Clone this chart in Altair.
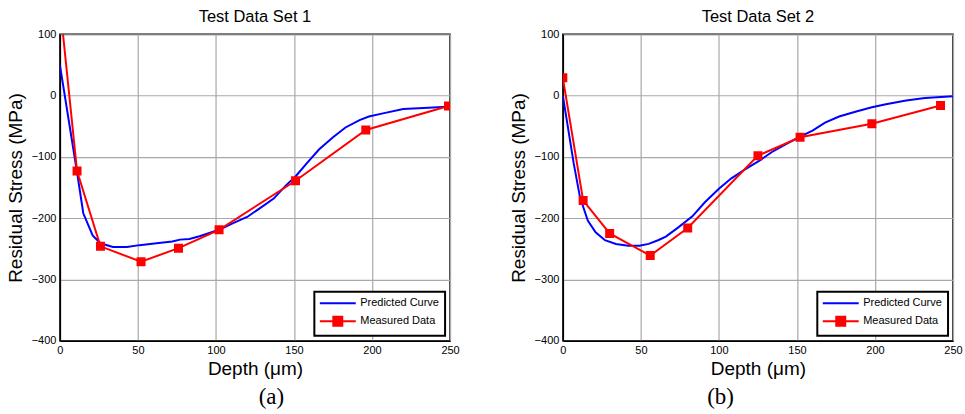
import altair as alt
import pandas as pd

titles = ["Test Data Set 1", "Test Data Set 2"]
captions = ["(a)", "(b)"]
series = ["Predicted Curve", "Measured Data"]
x_ticks = [0, 50, 100, 150, 200, 250]
y_ticks = [-400, -300, -200, -100, 0, 100]

pred1_x = [0, 11, 15, 21, 26, 34, 43, 51, 62, 72, 77, 83, 90, 102, 111, 120, 128, 137, 145, 151, 158, 166, 175, 183, 192, 198, 207, 220, 233, 248]
pred1_y = [50, -125, -192, -228, -241, -247, -247, -244, -241, -238, -235, -234, -229, -219, -208, -198, -184, -168, -146, -132, -111, -88, -68, -52, -40, -34, -29, -22, -20, -18]
meas1_x = [0, 11, 26, 52, 76, 102, 151, 196, 249]
meas1_y = [150, -123, -246, -271, -249, -219, -139, -56, -17]

pred2_x = [0, 7, 11, 16, 21, 27, 34, 42, 49, 55, 61, 66, 74, 83, 91, 100, 108, 117, 126, 134, 143, 151, 160, 168, 177, 188, 198, 207, 220, 232, 250]
pred2_y = [0, -111, -166, -204, -223, -236, -242, -245, -245, -242, -236, -230, -215, -197, -174, -152, -135, -120, -106, -92, -79, -68, -57, -44, -34, -26, -19, -14, -8, -4, -1]
meas2_x = [0, 13, 30, 56, 80, 125, 152, 198, 242]
meas2_y = [29, -171, -225, -261, -216, -98, -68, -46, -16]

BLUE = "#0000ff"
RED = "#ff0000"
W, H = 391, 307

sym_shape = ("datum.value === 'Measured Data' ? "
             "'M-4,0H4M-1,-1H1V1H-1Z' : 'M-4,0H4'")
legend = alt.Legend(
    title=None, orient="bottom-right", offset=5, padding=6,
    fillColor="white", strokeColor="black",
    symbolSize=81, symbolOffset=12, labelOffset=17, rowPadding=4,
    symbolType=alt.ExprRef(expr=sym_shape),
    symbolFillColor=alt.ExprRef(expr="datum.value === 'Measured Data' ? '#ff0000' : 'transparent'"),
    symbolStrokeColor=alt.ExprRef(expr="datum.value === 'Measured Data' ? '#ff0000' : '#0000ff'"),
    symbolStrokeWidth=2, symbolOpacity=1,
    labelFont="Liberation Sans", labelFontSize=11, labelColor="black",
)


def panel(px, py, mx, my, title, cap, cap_x):
    pred = pd.DataFrame({"depth": px, "stress": py})
    meas = pd.DataFrame({"depth": mx, "stress": my, "series": series[1]})
    capdf = pd.DataFrame({"cap": [cap]})
    xs = alt.Scale(domain=[0, 250], nice=False, zero=False)
    ys = alt.Scale(domain=[-400, 100], nice=False, zero=False)
    xax = alt.Axis(values=x_ticks, title="Depth (μm)", labelFlush=False,
                   titlePadding=4)
    yax = alt.Axis(values=y_ticks, title="Residual Stress (MPa)", labelFlush=False,
                   titlePadding=6)
    x = alt.X("depth:Q", scale=xs, axis=xax)
    y = alt.Y("stress:Q", scale=ys, axis=yax)
    lp = alt.Chart(pred).mark_line(color=BLUE, strokeWidth=2, clip=True).encode(x=x, y=y)
    lm = alt.Chart(meas).mark_line(color=RED, strokeWidth=2, clip=True).encode(x="depth:Q", y="stress:Q")
    pts = alt.Chart(meas).mark_point(filled=True, shape="square", size=81, opacity=1, clip=True).encode(
        x="depth:Q", y="stress:Q",
        color=alt.Color("series:N", scale=alt.Scale(domain=series, range=[BLUE, RED]), legend=legend),
    )
    txt = alt.Chart(capdf).mark_text(font="Liberation Serif", fontSize=23, baseline="middle",
                                     align="center", color="black").encode(
        text="cap:N", x=alt.value(cap_x), y=alt.value(363))
    return alt.layer(lp, lm, pts, txt).properties(
        width=W, height=H,
        title=alt.TitleParams(title, font="Liberation Sans", fontSize=16.5,
                              fontWeight="normal", color="black", offset=3, anchor="middle"))


p1 = panel(pred1_x, pred1_y, meas1_x, meas1_y, titles[0], captions[0], 212)
p2 = panel(pred2_x, pred2_y, meas2_x, meas2_y, titles[1], captions[1], 158)

chart = alt.hconcat(p1, p2, spacing=113, bounds="flush").resolve_scale(
    color="independent"
).resolve_legend(color="independent").properties(
    padding={"left": 5, "top": 7, "right": 2, "bottom": 2}
).configure_view(
    stroke="black", strokeWidth=1.5
).configure_axis(
    labelFont="Liberation Sans", labelFontSize=11, labelColor="black",
    titleFont="Liberation Sans", titleFontSize=19, titleFontWeight="normal", titleColor="black",
    domainColor="black", domainWidth=1.5, ticks=False, labelPadding=4,
    gridColor="#a8a8a8", gridWidth=1.2, gridOpacity=1,
).configure_legend(strokeWidth=2)

chart.save("out.html", embed_options={"renderer": "svg", "actions": False})
